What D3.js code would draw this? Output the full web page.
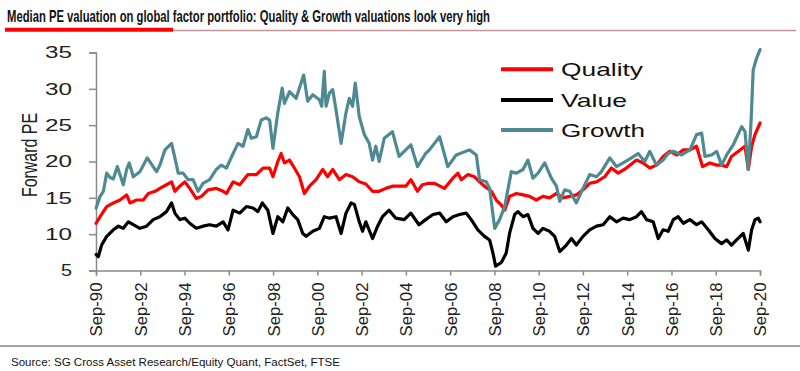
<!DOCTYPE html>
<html>
<head>
<meta charset="utf-8">
<script src="https://cdn.jsdelivr.net/npm/d3@7"></script>
<style>
  body { margin: 0; background: #fff; }
  svg { display: block; font-family: "Liberation Sans", Arial, sans-serif; }
</style>
</head>
<body>
<svg id="chart" width="800" height="371"></svg>
<script>
// Chart texts
const titleText = "Median PE valuation on global factor portfolio: Quality & Growth valuations look very high";
const sourceText = "Source: SG Cross Asset Research/Equity Quant, FactSet, FTSE";
const yAxisTitle = "Forward PE";

// Ticks
const yTicks = [5, 10, 15, 20, 25, 30, 35];
const tickYears = [1990, 1992, 1994, 1996, 1998, 2000, 2002, 2004, 2006, 2008, 2010, 2012, 2014, 2016, 2018, 2020];

// Series: [decimal year, forward PE]
const quality = [
  [1990.67, 11.5], [1990.85, 12.4], [1991.15, 13.8], [1991.45, 14.3], [1991.75, 14.7], [1992.05, 15.4],
  [1992.20, 14.3], [1992.50, 14.7], [1992.80, 14.7], [1993.03, 15.6], [1993.33, 15.9], [1993.55, 16.3],
  [1993.85, 16.8], [1994.08, 17.2], [1994.23, 15.9], [1994.45, 16.6], [1994.68, 17.2], [1994.90, 16.3],
  [1995.20, 14.9], [1995.43, 15.2], [1995.73, 16.1], [1996.10, 16.3], [1996.41, 15.9], [1996.56, 15.6],
  [1996.86, 17.2], [1997.16, 16.8], [1997.53, 18.2], [1997.91, 18.2], [1998.21, 19.1], [1998.51, 19.1],
  [1998.66, 17.9], [1998.88, 20.0], [1999.03, 21.1], [1999.18, 19.8], [1999.41, 20.2], [1999.63, 19.1],
  [1999.86, 17.9], [2000.08, 15.6], [2000.31, 16.6], [2000.61, 17.5], [2000.91, 18.9], [2001.13, 17.9],
  [2001.36, 18.9], [2001.66, 17.5], [2001.96, 18.2], [2002.26, 17.9], [2002.56, 17.2], [2002.86, 16.9],
  [2003.16, 15.9], [2003.46, 15.9], [2003.76, 16.3], [2004.06, 16.6], [2004.36, 16.6], [2004.66, 16.6],
  [2004.89, 17.5], [2005.19, 15.9], [2005.41, 16.8], [2005.71, 17.0], [2005.96, 17.0], [2006.41, 16.3],
  [2006.79, 17.7], [2007.02, 18.4], [2007.17, 17.5], [2007.47, 18.2], [2007.77, 17.9], [2008.00, 17.2],
  [2008.22, 16.6], [2008.53, 15.9], [2008.75, 14.7], [2008.98, 14.0], [2009.13, 13.3], [2009.35, 15.2],
  [2009.66, 15.6], [2009.96, 15.4], [2010.26, 15.2], [2010.56, 14.7], [2010.86, 15.2], [2011.16, 15.0],
  [2011.47, 15.6], [2011.77, 15.0], [2012.07, 15.2], [2012.37, 15.4], [2012.67, 16.1], [2012.97, 17.0],
  [2013.28, 17.2], [2013.65, 17.9], [2013.95, 19.1], [2014.26, 18.4], [2014.63, 19.1], [2015.09, 20.2],
  [2015.39, 19.8], [2015.69, 19.1], [2015.99, 19.5], [2016.29, 20.7], [2016.59, 21.4], [2016.90, 20.9],
  [2017.20, 21.6], [2017.50, 21.6], [2017.80, 22.1], [2018.07, 19.3], [2018.40, 19.8], [2018.71, 19.5],
  [2018.93, 19.5], [2019.16, 19.3], [2019.38, 20.7], [2019.69, 21.4], [2019.99, 22.1], [2020.14, 18.9],
  [2020.29, 22.1], [2020.44, 23.7], [2020.67, 25.3]
];

const value = [
  [1990.67, 7.2], [1990.77, 6.9], [1990.92, 8.5], [1991.15, 9.7], [1991.45, 10.6], [1991.68, 11.1],
  [1991.90, 10.8], [1992.13, 11.7], [1992.35, 11.3], [1992.65, 10.8], [1992.95, 11.1], [1993.25, 12.0],
  [1993.55, 12.4], [1993.85, 13.1], [1994.08, 14.3], [1994.23, 12.9], [1994.45, 12.0], [1994.68, 12.2],
  [1994.90, 11.5], [1995.20, 10.8], [1995.50, 11.1], [1995.80, 11.3], [1996.10, 11.1], [1996.41, 11.7],
  [1996.63, 10.6], [1996.86, 13.3], [1997.16, 12.9], [1997.46, 13.8], [1997.76, 13.6], [1997.98, 13.1],
  [1998.18, 14.3], [1998.43, 13.3], [1998.66, 10.1], [1998.88, 12.4], [1999.11, 11.7], [1999.33, 13.6],
  [1999.56, 12.7], [1999.78, 12.0], [2000.01, 10.1], [2000.16, 9.7], [2000.46, 10.4], [2000.76, 10.8],
  [2000.98, 12.4], [2001.21, 12.2], [2001.51, 12.4], [2001.74, 10.1], [2001.96, 12.9], [2002.19, 14.3],
  [2002.34, 14.1], [2002.56, 11.7], [2002.71, 10.4], [2002.86, 11.7], [2003.16, 9.4], [2003.39, 11.1],
  [2003.61, 12.4], [2003.91, 13.3], [2004.21, 12.2], [2004.59, 12.0], [2004.89, 12.9], [2005.26, 11.3],
  [2005.56, 12.0], [2005.89, 12.7], [2006.19, 12.9], [2006.49, 11.7], [2006.79, 12.4], [2007.09, 12.7],
  [2007.39, 12.9], [2007.62, 12.0], [2007.92, 10.6], [2008.22, 9.7], [2008.45, 9.2], [2008.60, 7.4],
  [2008.72, 5.6], [2008.98, 6.1], [2009.20, 7.4], [2009.35, 10.1], [2009.58, 12.7], [2009.73, 13.1],
  [2009.96, 12.4], [2010.18, 12.7], [2010.41, 10.8], [2010.64, 10.1], [2010.86, 10.8], [2011.16, 10.4],
  [2011.39, 9.7], [2011.62, 7.6], [2011.92, 8.5], [2012.15, 9.4], [2012.37, 8.5], [2012.67, 9.7],
  [2012.97, 10.6], [2013.28, 11.1], [2013.58, 11.3], [2013.88, 12.4], [2014.18, 11.7], [2014.48, 12.2],
  [2014.78, 12.0], [2015.09, 12.4], [2015.31, 13.1], [2015.54, 12.0], [2015.84, 11.7], [2016.07, 9.4],
  [2016.29, 10.6], [2016.52, 10.4], [2016.75, 12.0], [2016.97, 12.4], [2017.20, 11.5], [2017.50, 12.0],
  [2017.80, 11.3], [2018.03, 11.7], [2018.33, 10.6], [2018.63, 9.4], [2018.93, 8.7], [2019.16, 9.2],
  [2019.38, 8.5], [2019.61, 9.2], [2019.91, 10.1], [2020.14, 7.8], [2020.29, 10.6], [2020.44, 12.0],
  [2020.59, 12.2], [2020.67, 11.7]
];

const growth = [
  [1990.67, 13.6], [1990.85, 15.2], [1991.00, 15.9], [1991.15, 18.4], [1991.30, 17.8], [1991.45, 17.6],
  [1991.63, 19.3], [1991.90, 16.8], [1992.05, 18.9], [1992.17, 19.8], [1992.35, 17.9], [1992.65, 18.6],
  [1992.98, 20.5], [1993.40, 18.6], [1993.55, 19.5], [1993.78, 21.6], [1994.08, 22.5], [1994.23, 20.5],
  [1994.38, 18.4], [1994.60, 18.4], [1994.83, 17.5], [1995.05, 17.5], [1995.28, 15.9], [1995.50, 17.0],
  [1995.80, 17.5], [1996.10, 18.9], [1996.33, 19.5], [1996.56, 19.1], [1996.86, 21.1], [1997.08, 22.5],
  [1997.31, 22.1], [1997.53, 24.4], [1997.68, 23.2], [1997.91, 23.4], [1998.13, 25.7], [1998.36, 26.0],
  [1998.51, 25.7], [1998.66, 21.8], [1998.88, 26.7], [1999.08, 30.1], [1999.18, 28.0], [1999.41, 29.6],
  [1999.71, 28.7], [2000.05, 31.9], [2000.23, 28.3], [2000.46, 29.2], [2000.76, 28.5], [2000.86, 27.6],
  [2000.98, 32.4], [2001.06, 27.6], [2001.21, 29.4], [2001.36, 29.9], [2001.51, 27.1], [2001.74, 22.5],
  [2001.96, 26.7], [2002.11, 28.7], [2002.26, 27.6], [2002.38, 30.8], [2002.56, 26.2], [2002.79, 23.7],
  [2003.01, 22.5], [2003.16, 20.2], [2003.31, 22.1], [2003.46, 20.0], [2003.69, 23.2], [2004.06, 24.1],
  [2004.36, 20.7], [2004.89, 22.3], [2005.19, 19.3], [2005.56, 21.1], [2005.73, 21.6], [2006.19, 23.4],
  [2006.56, 19.3], [2006.94, 20.9], [2007.54, 21.6], [2007.85, 20.9], [2008.00, 17.5], [2008.30, 17.2],
  [2008.45, 16.3], [2008.68, 10.8], [2008.90, 12.0], [2009.13, 13.8], [2009.43, 18.6], [2009.66, 18.4],
  [2009.96, 18.9], [2010.18, 20.2], [2010.41, 17.7], [2010.64, 18.4], [2010.94, 19.8], [2011.24, 17.7],
  [2011.47, 16.6], [2011.62, 14.5], [2011.84, 16.1], [2012.07, 15.9], [2012.37, 14.3], [2012.67, 16.3],
  [2012.97, 18.2], [2013.28, 17.9], [2013.50, 18.6], [2013.88, 20.5], [2014.18, 19.3], [2014.48, 19.8],
  [2014.86, 20.5], [2015.16, 21.1], [2015.46, 20.0], [2015.69, 21.4], [2015.99, 19.5], [2016.29, 20.2],
  [2016.52, 21.1], [2016.75, 21.4], [2017.12, 20.9], [2017.50, 21.6], [2017.80, 23.7], [2018.03, 23.9],
  [2018.18, 20.7], [2018.48, 20.9], [2018.71, 21.4], [2018.93, 19.5], [2019.16, 20.9], [2019.46, 22.3],
  [2019.84, 24.8], [2019.99, 24.1], [2020.14, 18.9], [2020.26, 25.3], [2020.36, 32.6], [2020.51, 34.2],
  [2020.67, 35.4]
];

const seriesNames = ["Quality", "Value", "Growth"];
const seriesData = [quality, value, growth];
const seriesColors = ["#ff0000", "#000000", "#4f8a93"];

// decimal year -> Date
function toDate(t) {
  const y = Math.floor(t);
  const start = new Date(y, 0, 1), end = new Date(y + 1, 0, 1);
  return new Date(+start + (t - y) * (end - start));
}

const svg = d3.select('#chart');
const axisColor = '#8a8a8a';

const x = d3.scaleTime()
  .domain([new Date(1990, 8, 1), new Date(2020, 8, 1)])
  .range([96, 760]);
const y = d3.scaleLinear()
  .domain([5, 35])
  .range([270.5, 52.5]);

// Title + underline
svg.append('text')
  .attr('x', 7).attr('y', 21.5)
  .attr('font-family', '"Liberation Sans Narrow", "Arial Narrow", "Liberation Sans", sans-serif')
  .attr('font-weight', 'bold')
  .attr('font-size', 17)
  .attr('fill', '#111')
  .attr('textLength', 483)
  .attr('lengthAdjust', 'spacingAndGlyphs')
  .text(titleText);

svg.append('line')
  .attr('x1', 173).attr('x2', 796).attr('y1', 30.5).attr('y2', 30.5)
  .attr('stroke', '#c49499').attr('stroke-width', 1.5);
svg.append('line')
  .attr('x1', 5).attr('x2', 173).attr('y1', 29.8).attr('y2', 29.8)
  .attr('stroke', '#ff0000').attr('stroke-width', 4);

// Y axis
const yAxis = svg.append('g')
  .attr('transform', 'translate(96,0)')
  .call(d3.axisLeft(y).tickValues(yTicks).tickSize(7).tickPadding(17));
yAxis.select('.domain').attr('stroke', axisColor).attr('stroke-width', 1.5);
yAxis.selectAll('.tick line').attr('stroke', axisColor).attr('stroke-width', 1.5);
yAxis.selectAll('.tick text')
  .attr('font-size', 17)
  .attr('fill', '#222')
  .attr('font-family', '"Liberation Sans", Arial, sans-serif')
  .attr('textLength', d => String(d).length > 1 ? 27 : 11)
  .attr('lengthAdjust', 'spacingAndGlyphs');

// X axis
const xAxis = svg.append('g')
  .attr('transform', 'translate(0,270.5)')
  .call(d3.axisBottom(x)
    .tickValues(tickYears.map(yr => new Date(yr, 8, 1)))
    .tickFormat(d3.timeFormat('%b-%y'))
    .tickSize(5));
xAxis.select('.domain').attr('stroke', axisColor).attr('stroke-width', 1.5);
xAxis.selectAll('.tick line').attr('stroke', axisColor).attr('stroke-width', 1.5);
xAxis.selectAll('.tick text')
  .attr('font-size', 17)
  .attr('fill', '#222')
  .attr('font-family', '"Liberation Sans", Arial, sans-serif')
  .attr('transform', 'rotate(-90)')
  .attr('text-anchor', 'end')
  .attr('x', -12)
  .attr('y', 0)
  .attr('dy', '0.35em')
  .attr('textLength', 54)
  .attr('lengthAdjust', 'spacingAndGlyphs');

// Y axis title
svg.append('text')
  .attr('transform', 'translate(37,155) rotate(-90)')
  .attr('text-anchor', 'middle')
  .attr('font-size', 22)
  .attr('fill', '#222')
  .attr('textLength', 84)
  .attr('lengthAdjust', 'spacingAndGlyphs')
  .text(yAxisTitle);

// Lines
const line = d3.line()
  .x(d => x(toDate(d[0])))
  .y(d => y(d[1]))
  .curve(d3.curveLinear);

svg.append('g')
  .selectAll('path')
  .data(seriesData)
  .enter().append('path')
  .attr('d', line)
  .attr('fill', 'none')
  .attr('stroke', (d, i) => seriesColors[i])
  .attr('stroke-width', 3.2)
  .attr('stroke-linejoin', 'round')
  .attr('stroke-linecap', 'round');

// Legend
const legendY = [69.3, 100, 130];
const legendLen = [82, 66, 84];
const legend = svg.append('g')
  .selectAll('g')
  .data(seriesNames)
  .enter().append('g')
  .attr('transform', (d, i) => `translate(501,${legendY[i]})`);
legend.append('line')
  .attr('x1', 0).attr('x2', 52)
  .attr('stroke', (d, i) => seriesColors[i])
  .attr('stroke-width', 4);
legend.append('text')
  .attr('x', 60)
  .attr('dy', '0.36em')
  .attr('font-size', 18.5)
  .attr('fill', '#111')
  .attr('textLength', (d, i) => legendLen[i])
  .attr('lengthAdjust', 'spacingAndGlyphs')
  .text(d => d);

// Bottom rule + source
svg.append('line')
  .attr('x1', 0).attr('x2', 800).attr('y1', 346).attr('y2', 346)
  .attr('stroke', '#a3a3a3').attr('stroke-width', 2);
svg.append('text')
  .attr('x', 11).attr('y', 366)
  .attr('font-size', 11.5)
  .attr('fill', '#111')
  .attr('textLength', 329)
  .attr('lengthAdjust', 'spacingAndGlyphs')
  .text(sourceText);
</script>
</body>
</html>
